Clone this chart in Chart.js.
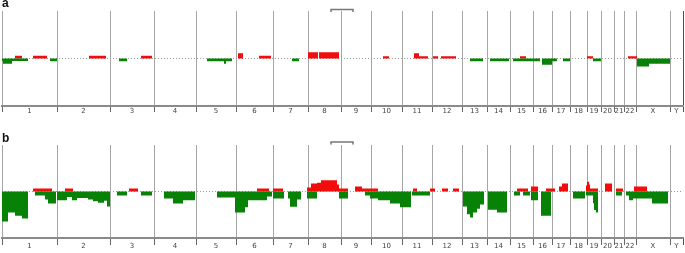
<!DOCTYPE html>
<html>
<head>
<meta charset="utf-8">
<script src="https://cdn.jsdelivr.net/npm/chart.js@4.4.1/dist/chart.umd.min.js"></script>
<style>
  body { margin: 0; background: #fff; }
  #wrap { position: relative; width: 685px; height: 253px; overflow: hidden; }
  canvas { position: absolute; left: 0; }
  .tag { position: absolute; left: 2px; font: bold 12px "Liberation Sans", Arial, sans-serif; color: #111; }
</style>
</head>
<body>
<div id="wrap">
  <canvas id="chartA" width="685" height="120" style="top:0"></canvas>
  <canvas id="chartB" width="685" height="133" style="top:120px"></canvas>
  <div class="tag" style="top:-4px">a</div>
  <div class="tag" style="top:131px">b</div>
</div>
<script>
// chromosome layout (genome index units along the x axis)
const chromNames = ['1','2','3','4','5','6','7','8','9','10','11','12','13','14','15','16','17','18','19','20','21','22','X','Y'];
const chromEdges = [0,55,108,152,194,234,271,306,339,369,400,430,460,485,508,531,550,568,585,599,612,622,634,668,681];

// segments: [start, end, value]
const gainsA = [
  [13,20,0.06],[31,45,0.06],[87,104,0.06],[139,150,0.06],
  [236,241,0.11],[257,269,0.06],[306,316,0.13],[317,337,0.13],
  [381,387,0.05],[412,417,0.11],[417,426,0.05],[431,436,0.05],[439,454,0.05],
  [518,524,0.05],[585,591,0.05],[626,635,0.05]
];
const lossesA = [
  [0,1,-0.05],[1,10,-0.11],[10,26,-0.05],[48,55,-0.06],[117,125,-0.06],
  [205,222,-0.06],[222,224,-0.11],[224,230,-0.06],[290,297,-0.06],
  [468,481,-0.06],[488,507,-0.06],[511,538,-0.06],[540,550,-0.13],[550,555,-0.06],
  [561,568,-0.06],[591,599,-0.06],[635,647,-0.17],[647,668,-0.11]
];
const gainsB = [
  [31,50,0.065],[63,71,0.065],[127,136,0.065],[255,267,0.065],[271,281,0.065],
  [305,309,0.086],[309,315,0.17],[315,319,0.19],[319,335,0.24],[335,337,0.15],[337,346,0.065],
  [353,360,0.11],[360,376,0.065],[411,415,0.065],[428,433,0.065],[440,446,0.065],[451,457,0.065],
  [515,526,0.065],[529,536,0.11],[544,553,0.065],[557,560,0.11],[560,566,0.17],
  [584,585,0.13],[585,587,0.21],[587,588,0.15],[588,596,0.065],[603,610,0.17],[614,621,0.065],
  [632,645,0.11]
];
const lossesB = [
  [0,6,-0.645],[6,13,-0.45],[13,20,-0.52],[20,26,-0.58],
  [33,43,-0.086],[43,46,-0.17],[46,54,-0.26],
  [55,65,-0.19],[65,70,-0.12],[70,75,-0.19],[75,86,-0.14],[86,91,-0.17],[91,96,-0.21],[96,102,-0.24],[102,105,-0.2],[105,108,-0.32],
  [115,125,-0.086],[139,150,-0.086],
  [162,171,-0.15],[171,181,-0.26],[181,193,-0.19],
  [215,233,-0.13],[233,243,-0.45],[243,246,-0.34],[246,265,-0.19],[265,270,-0.11],
  [271,282,-0.15],[286,288,-0.15],[288,295,-0.33],[295,299,-0.17],
  [305,315,-0.15],[337,346,-0.15],[363,368,-0.086],[368,376,-0.15],
  [376,388,-0.19],[388,398,-0.26],[398,409,-0.34],[410,428,-0.086],
  [461,465,-0.32],[465,468,-0.49],[468,471,-0.56],[471,475,-0.45],[475,478,-0.37],[478,482,-0.28],
  [486,495,-0.39],[495,505,-0.45],
  [512,518,-0.086],[521,528,-0.086],[529,536,-0.19],[539,549,-0.52],
  [571,583,-0.15],[584,591,-0.086],[591,592,-0.25],[592,594,-0.4],[594,596,-0.45],
  [614,620,-0.086],[624,627,-0.086],[627,631,-0.19],[631,650,-0.15],[650,666,-0.26]
];

const RED = '#f20d0d';
const GREEN = '#078207';

function toSteps(segs) {
  const pts = [];
  segs.forEach(([s, e, v]) => {
    pts.push({x: s, y: 0}, {x: s, y: v}, {x: e, y: v}, {x: e, y: 0});
  });
  return pts;
}

const centers = chromNames.map((n, i) => (chromEdges[i] + chromEdges[i + 1]) / 2);
const edgeSet = new Set(chromEdges);
const lastEdge = chromEdges[chromEdges.length - 1];

const bracketPlugin = {
  id: 'bracket',
  afterDraw(chart, args, opts) {
    const {ctx, chartArea} = chart;
    const x = chart.scales.x;
    const x0 = x.getPixelForValue(opts.from), x1 = x.getPixelForValue(opts.to);
    const y = chartArea.top - opts.lift;
    ctx.save();
    ctx.strokeStyle = '#777';
    ctx.lineWidth = 1.5;
    ctx.beginPath();
    ctx.moveTo(x0, y + 2.5); ctx.lineTo(x0, y); ctx.lineTo(x1, y); ctx.lineTo(x1, y + 2.5);
    ctx.stroke();
    ctx.restore();
  }
};

function makePanel(id, gains, losses, cfg) {
  return new Chart(document.getElementById(id), {
    type: 'line',
    data: {
      datasets: [
        { data: toSteps(losses), backgroundColor: GREEN, borderColor: 'rgba(0,0,0,0)', borderWidth: 0, pointRadius: 0, fill: 'origin', tension: 0 },
        { data: toSteps(gains), backgroundColor: RED, borderColor: 'rgba(0,0,0,0)', borderWidth: 0, pointRadius: 0, fill: 'origin', tension: 0 }
      ]
    },
    options: {
      responsive: false,
      animation: false,
      devicePixelRatio: 1,
      events: [],
      layout: { padding: { left: 2, right: 2, top: cfg.top, bottom: 0 } },
      plugins: { legend: { display: false }, tooltip: { enabled: false }, bracket: { from: 329, to: 351, lift: cfg.lift } },
      scales: {
        x: {
          type: 'linear', min: 0, max: lastEdge,
          afterBuildTicks: s => {
            s.ticks = chromEdges.map(v => ({value: v})).concat(centers.map(v => ({value: v})))
              .sort((a, b) => a.value - b.value);
          },
          afterFit: s => { s.height = cfg.axisH; },
          ticks: {
            autoSkip: false, maxRotation: 0, padding: cfg.pad, color: '#444',
            font: { family: 'DejaVu Sans', size: 7 },
            callback: v => { const i = centers.indexOf(v); return i >= 0 ? chromNames[i] : ''; }
          },
          grid: {
            tickLength: cfg.tickLen,
            lineWidth: 1,
            color: c => {
              const v = c.tick && c.tick.value;
              if (!edgeSet.has(v)) return 'rgba(0,0,0,0)';
              if (v === lastEdge) return cfg.lastLine;
              return '#a6a6a6';
            },
            tickColor: c => {
              const v = c.tick && c.tick.value;
              if (!edgeSet.has(v)) return 'rgba(0,0,0,0)';
              if (v === lastEdge) return '#3344dd';
              return '#666';
            }
          },
          border: { display: true, color: '#8a8a8a', width: 2 }
        },
        y: {
          min: -1, max: 1,
          afterBuildTicks: s => { s.ticks = [{value: 0}]; },
          afterFit: s => { s.width = 0; },
          ticks: { display: false },
          grid: { drawTicks: false, color: '#9a9a9a', lineWidth: 1 },
          border: { display: false, dash: [1, 2] }
        }
      }
    },
    plugins: [bracketPlugin]
  });
}

makePanel('chartA', gainsA, lossesA, { top: 11, axisH: 14, tickLen: 6, pad: -5, lift: 1.5, lastLine: '#3344dd' });
makePanel('chartB', gainsB, lossesB, { top: 25, axisH: 15, tickLen: 7, pad: -3, lift: 3, lastLine: 'rgba(0,0,0,0)' });
</script>
</body>
</html>
